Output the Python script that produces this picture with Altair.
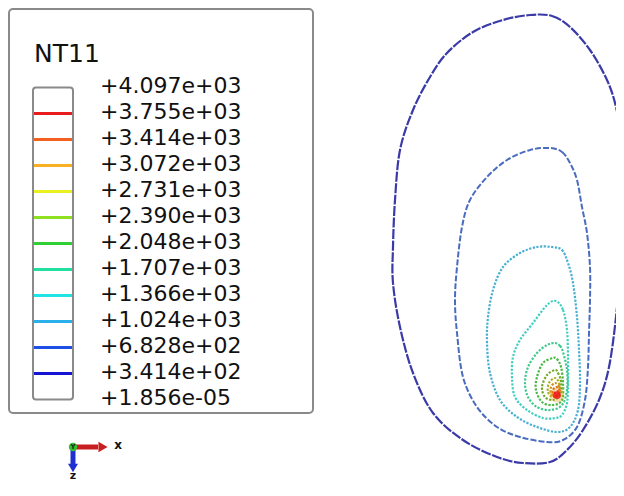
import altair as alt
import pandas as pd

# ---------------- legend data ----------------
legend_title = "NT11"
legend_labels = ["+1.856e-05", "+3.414e+02", "+6.828e+02", "+1.024e+03", "+1.366e+03",
                 "+1.707e+03", "+2.048e+03", "+2.390e+03", "+2.731e+03", "+3.072e+03",
                 "+3.414e+03", "+3.755e+03", "+4.097e+03"]
legend_levels = list(range(13))
line_levels = list(range(1, 12))
legend_colors = ["#1414d2", "#1e50e8", "#2cb0ec", "#20e4e4", "#22e0a0", "#2ed034",
                 "#8ee020", "#eaf020", "#f8b020", "#f46020", "#e81c1c"]
plot_colors = ["#3a3aa8", "#4a6cc0", "#48b0d0", "#40d0c0", "#40c890", "#48b840",
               "#70a828", "#a8b020", "#d09020", "#e06020", "#e82020"]

# ---------------- contour data ----------------
c1x = [530, 552, 570, 590, 607, 616, 621, 622, 620, 616, 609, 599, 583, 567, 550, 523, 497, 463, 433, 413, 400, 393, 393, 395, 400, 413, 430, 447, 473, 503]
c1y = [15, 16, 27, 50, 80, 107, 140, 200, 267, 317, 367, 400, 430, 450, 462, 463, 457, 440, 413, 373, 327, 283, 247, 200, 150, 110, 77, 53, 32, 20]
c2x = [550, 562, 570, 577, 582, 587, 590, 590, 589, 588, 585, 577, 563, 547, 520, 497, 477, 463, 457, 455, 457, 462, 470, 487, 507, 530]
c2y = [148, 152, 163, 180, 207, 233, 267, 300, 333, 367, 400, 427, 440, 442, 437, 427, 407, 377, 333, 300, 267, 227, 200, 177, 160, 150]
c3x = [552, 562, 568, 573, 577, 579, 580, 578, 570, 557, 537, 517, 500, 490, 487, 488, 493, 503, 520, 537]
c3y = [247, 250, 263, 283, 317, 350, 383, 410, 427, 432, 427, 417, 400, 373, 343, 317, 290, 267, 253, 247]
c4x = [556, 563, 567, 568, 568, 567, 562, 555, 543, 527, 515, 512, 513, 520, 533, 547]
c4y = [301, 310, 330, 357, 383, 403, 415, 418, 418, 410, 397, 377, 357, 340, 323, 305]
c5x = [555, 560, 563, 567, 567, 562, 550, 537, 528, 525, 528, 537, 547]
c5y = [343, 346, 352, 370, 390, 405, 410, 407, 397, 383, 367, 353, 345]
c6x = [553, 557, 561, 563, 562, 553, 542, 536, 537, 543]
c6y = [358, 359, 367, 383, 400, 405, 402, 390, 377, 363]
c7x = [555, 558, 561, 560, 553, 545, 542, 547]
c7y = [370, 373, 382, 395, 400, 397, 387, 375]
c8x = [555, 559, 559, 553, 548, 549]
c8y = [378, 383, 392, 397, 392, 383]
c9x = [555, 559, 560, 556, 551, 551]
c9y = [383, 386, 392, 396, 393, 387]
c10x = [556, 559, 559, 556, 553, 553]
c10y = [387, 389, 394, 397, 395, 390]
c11x = [557, 559, 558, 556, 555]
c11y = [391, 393, 396, 396, 393]
hot_x = [557]
hot_y = [395]

contours = [(c1x, c1y), (c2x, c2y), (c3x, c3y), (c4x, c4y), (c5x, c5y), (c6x, c6y),
            (c7x, c7y), (c8x, c8y), (c9x, c9y), (c10x, c10y), (c11x, c11y)]
rows = []
for lvl, (xs_, ys_) in enumerate(contours, start=1):
    for i, (x, y) in enumerate(zip(xs_, ys_)):
        rows.append({"level": lvl, "i": i, "x": x, "y": y})
cdf = pd.DataFrame(rows)
hot = pd.DataFrame({"x": hot_x, "y": hot_y})

FONT = "DejaVu Sans"
W, H = 608, 474

# ---------------- legend layers (legend scale: 26 px per level) ----------------
ldf = pd.DataFrame({"level": legend_levels, "label": legend_labels})
bdf = pd.DataFrame({"level": line_levels, "color": legend_colors})
lv_top = 391.5 / 26.0
yscale = alt.Scale(domain=[lv_top - H / 26.0, lv_top], nice=False, zero=False)
one = pd.DataFrame({"a": [0]})

frame = alt.Chart(one).mark_rect(fill="white", stroke="#8a8a8a", strokeWidth=2, cornerRadius=4).encode(
    x=alt.value(1), x2=alt.value(305), y=alt.value(1), y2=alt.value(405))
bar_box = alt.Chart(one).mark_rect(fill="white", stroke="#8a8a8a", strokeWidth=2, cornerRadius=3).encode(
    x=alt.value(25), x2=alt.value(65),
    y=alt.datum(legend_levels[0], type="quantitative", scale=yscale, axis=None),
    y2=alt.datum(legend_levels[-1]))
bar_lines = alt.Chart(bdf).mark_rule(strokeWidth=3).encode(
    x=alt.value(26), x2=alt.value(64),
    y=alt.Y("level:Q", scale=yscale, axis=None),
    color=alt.Color("color:N", scale=None, legend=None))
labels = alt.Chart(ldf).mark_text(align="left", baseline="middle", font=FONT, fontSize=22, dy=-1.5, color="#111").encode(
    x=alt.value(92), y=alt.Y("level:Q", scale=yscale, axis=None), text="label:N")
title = alt.Chart(one).mark_text(align="left", baseline="alphabetic", font=FONT, fontSize=25, color="#111").encode(
    x=alt.value(26), y=alt.value(54), text=alt.value(legend_title))

# triad
tri_x_rule = alt.Chart(one).mark_rule(color="#c82020", strokeWidth=5).encode(
    x=alt.value(65), x2=alt.value(90), y=alt.value(439))
tri_x_head = alt.Chart(one).mark_point(shape="triangle-right", filled=True, size=110, color="#c82020", opacity=1).encode(
    x=alt.value(95), y=alt.value(439))
tri_z_rule = alt.Chart(one).mark_rule(color="#2030d0", strokeWidth=5).encode(
    x=alt.value(65), y=alt.value(439), y2=alt.value(456))
tri_z_head = alt.Chart(one).mark_point(shape="triangle-down", filled=True, size=100, color="#2030d0", opacity=1).encode(
    x=alt.value(65), y=alt.value(460))
tri_dot = alt.Chart(one).mark_point(shape="circle", filled=True, size=70, color="#30c030", opacity=1).encode(
    x=alt.value(65), y=alt.value(439))
tri_y = alt.Chart(one).mark_text(font="DejaVu Sans", fontSize=7, fontWeight="bold", color="#222").encode(
    x=alt.value(65), y=alt.value(439), text=alt.value("Y"))
tri_xl = alt.Chart(one).mark_text(font="DejaVu Sans", fontSize=12, fontWeight="bold", color="#111").encode(
    x=alt.value(110), y=alt.value(437), text=alt.value("x"))
tri_zl = alt.Chart(one).mark_text(font="DejaVu Sans", fontSize=11, fontWeight="bold", color="#111").encode(
    x=alt.value(65), y=alt.value(468), text=alt.value("z"))

# ---------------- contour layers ----------------
xs = alt.Scale(domain=[8, 8 + W], nice=False, zero=False)
ys = alt.Scale(domain=[8, 8 + H], nice=False, zero=False, reverse=True)
cscale = alt.Scale(domain=line_levels, range=plot_colors)

def contour_layer(df, dash, width):
    return alt.Chart(df).mark_line(interpolate="cardinal-closed", strokeDash=dash, strokeWidth=width).encode(
        x=alt.X("x:Q", scale=xs, axis=None),
        y=alt.Y("y:Q", scale=ys, axis=None),
        detail="level:N",
        order="i:Q",
        color=alt.Color("level:O", scale=cscale, legend=None))

outer = contour_layer(cdf[cdf.level == 1], [10, 1.5], 2.2)
second = contour_layer(cdf[cdf.level == 2], [6, 2], 2.0)
inner = contour_layer(cdf[cdf.level >= 3], [2.2, 1.5], 2.2)
halo = alt.Chart(hot).mark_point(filled=True, size=220, color="#f0a020", opacity=0.35).encode(
    x=alt.X("x:Q", scale=xs, axis=None), y=alt.Y("y:Q", scale=ys, axis=None))
spot = alt.Chart(hot).mark_point(filled=True, size=60, color="#ee1a1a", opacity=0.85).encode(
    x=alt.X("x:Q", scale=xs, axis=None), y=alt.Y("y:Q", scale=ys, axis=None))

legend_part = alt.layer(frame, bar_box, bar_lines, labels, title, tri_x_rule, tri_x_head,
                        tri_z_rule, tri_z_head, tri_dot, tri_y, tri_xl, tri_zl)
plot_part = alt.layer(outer, second, inner, halo, spot)

chart = alt.layer(legend_part, plot_part).resolve_scale(
    x="independent", y="independent", color="independent").properties(
    width=W, height=H, padding=0, autosize=alt.AutoSizeParams(type="none"),
    background="white").configure_view(stroke="transparent", strokeWidth=0)

chart.save("out.html", embed_options={"renderer": "svg", "actions": False})
